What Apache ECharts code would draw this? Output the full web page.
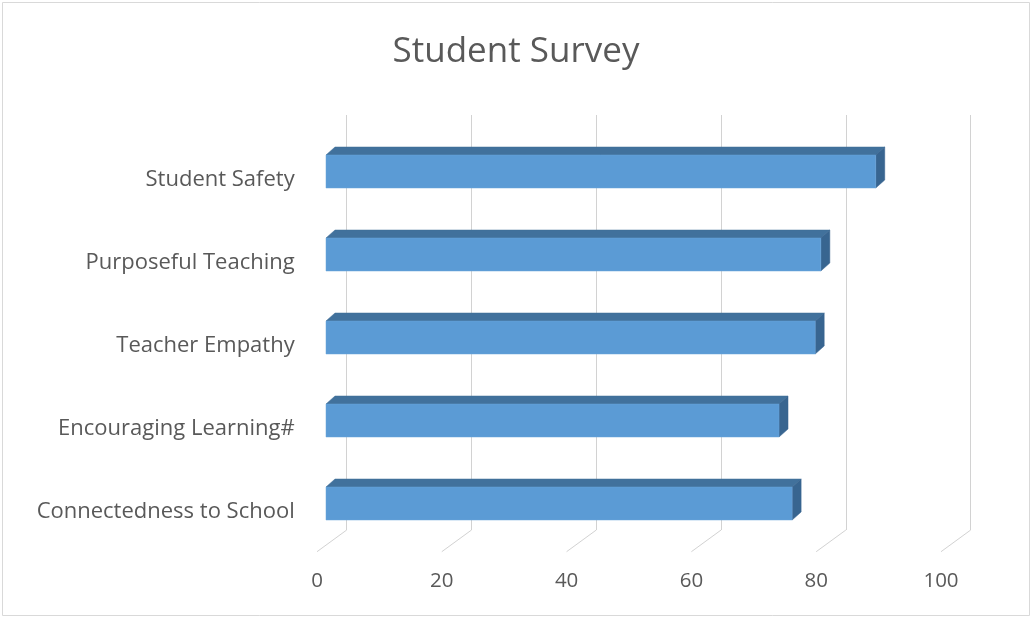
<!DOCTYPE html>
<html>
<head>
<meta charset="utf-8">
<script src="https://cdn.jsdelivr.net/npm/echarts@6/dist/echarts.min.js"></script>
<style>html,body{margin:0;padding:0;background:#fff}#c{width:1032px;height:619px}</style>
</head>
<body>
<div id="c"></div>
<script>
const categories = ['Connectedness to School', 'Encouraging Learning#', 'Teacher Empathy', 'Purposeful Teaching', 'Student Safety'];
const values = [74.7, 72.6, 78.4, 79.3, 88.1];
const xTicks = [0, 20, 40, 60, 80, 100];

const FRONT_SHIFT = 20.7; // bar front face is in front of the back wall
const DX = 9, DY = 8, BAR_H = 33, BAR_OFF = 15;
const FLOOR_DX = 29.7, FLOOR_DY = 21.7;

const chart = echarts.init(document.getElementById('c'));
chart.setOption({
  backgroundColor: '#ffffff',
  animation: false,
  title: {
    text: 'Student Survey', left: 'center', top: 30,
    textStyle: { fontFamily: 'Open Sans', fontSize: 35, fontWeight: 'normal', color: '#595959' }
  },
  graphic: [{
    type: 'rect', shape: { x: 2.5, y: 2.5, width: 1027, height: 613 },
    style: { fill: 'none', stroke: '#d9d9d9', lineWidth: 1 }, silent: true
  }],
  grid: { left: 346.7, right: 61.3, top: 115, bottom: 89 },
  xAxis: {
    type: 'value', min: 0, max: 100, interval: 20,
    axisLine: { show: false }, axisTick: { show: false },
    splitLine: { show: true, lineStyle: { color: '#d2d2d2', width: 1 } },
    axisLabel: {
      margin: 41, color: '#595959', fontFamily: 'Open Sans', fontSize: 20.5,
      padding: [0, 59.4, 0, 0]
    }
  },
  yAxis: {
    type: 'category', data: categories,
    axisLine: { show: false }, axisTick: { show: false },
    splitLine: { show: false },
    axisLabel: {
      margin: 52, color: '#595959', fontFamily: 'Open Sans', fontSize: 22,
      interval: 0, showMinLabel: true, showMaxLabel: true, hideOverlap: false,
      verticalAlign: 'top', lineHeight: 46
    }
  },
  series: [
    {
      type: 'custom',
      coordinateSystem: 'cartesian2d',
      data: xTicks.map(v => [v, 0]),
      encode: { x: 0, y: 1 },
      silent: true,
      z: 1,
      renderItem: function (params, api) {
        const cs = params.coordSys;
        const x = api.coord([api.value(0), 0])[0];
        const yb = cs.y + cs.height;
        return {
          type: 'line',
          shape: { x1: x, y1: yb, x2: x - FLOOR_DX, y2: yb + FLOOR_DY },
          style: { stroke: '#d2d2d2', lineWidth: 1 }
        };
      }
    },
    {
      type: 'custom',
      coordinateSystem: 'cartesian2d',
      data: values.map((v, i) => [v, i]),
      encode: { x: 0, y: 1 },
      z: 5,
      renderItem: function (params, api) {
        const idx = api.value(1);
        const p0 = api.coord([0, idx]);
        const p1 = api.coord([api.value(0), idx]);
        const x0 = p0[0] - FRONT_SHIFT;
        const x1 = p1[0] - FRONT_SHIFT;
        const cy = p1[1] + BAR_OFF;
        const top = cy - BAR_H / 2, bot = cy + BAR_H / 2;
        return {
          type: 'group',
          children: [
            { type: 'polygon', shape: { points: [[x0, top], [x0 + DX, top - DY], [x1 + DX, top - DY], [x1, top]] },
              style: { fill: '#41719c', stroke: '#3e6c97', lineWidth: 0.5 } },
            { type: 'polygon', shape: { points: [[x1, top], [x1 + DX, top - DY], [x1 + DX, bot - DY], [x1, bot]] },
              style: { fill: '#386590', stroke: '#386590', lineWidth: 0.5 } },
            { type: 'rect', shape: { x: x0, y: top, width: x1 - x0, height: BAR_H },
              style: { fill: '#5b9bd5', stroke: '#6aa5db', lineWidth: 0.5 } }
          ]
        };
      }
    }
  ]
});
</script>
</body>
</html>
